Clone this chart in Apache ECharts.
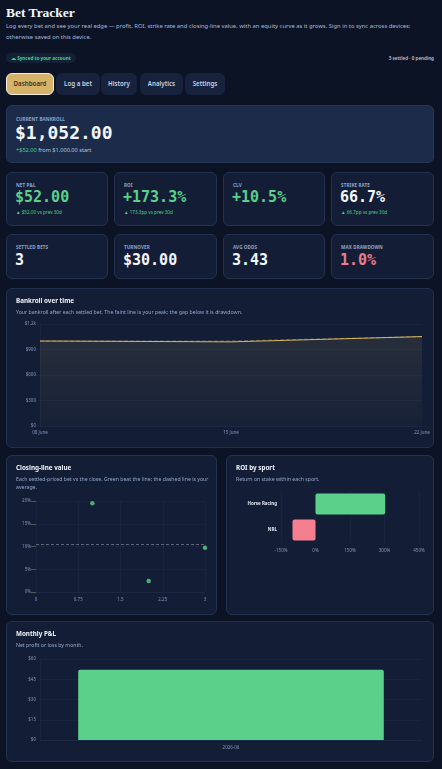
<!DOCTYPE html>
<html><head><meta charset="utf-8">
<script src="https://cdn.jsdelivr.net/npm/echarts@6/dist/echarts.min.js"></script>
<style>
html,body{margin:0;padding:0;background:#0c1324;width:442px;height:769px;overflow:hidden;font-family:"Noto Sans",sans-serif;color:#e8eefb}
.abs{position:absolute;box-sizing:border-box}
.card{position:absolute;box-sizing:border-box;background:#131e36;border:1px solid #233150;border-radius:6px}
h1{position:absolute;left:6px;top:5px;margin:0;font-family:"Liberation Serif",serif;font-weight:bold;font-size:13.5px;color:#f4f6fb}
.sub{position:absolute;left:6px;top:21px;width:432px;font-size:5.85px;line-height:10.5px;color:#a8bbdd}
.pill{position:absolute;left:6px;top:53px;height:10px;padding:0 5px;border-radius:5px;background:#122038;color:#4ad57f;font-size:4.6px;font-weight:bold;line-height:10px}
.status{position:absolute;right:8px;top:55px;font-size:4.6px;color:#b7c6e2;font-weight:600}
.tab{position:absolute;top:73px;height:22px;border-radius:6px;background:#17233c;color:#c9d3e6;font-size:6.2px;font-weight:600;line-height:22px;text-align:center}
.tab.on{background:#d5b46a;color:#3b331f;border:1.5px solid #f3efe3;line-height:19px}
.lab{position:absolute;left:9px;font-size:4.6px;font-weight:bold;color:#8ea4cb;letter-spacing:0.1px}
.val{position:absolute;left:8px;font-family:"DejaVu Sans Mono",monospace;font-weight:bold;color:#f3f6fc}
.small{position:absolute;left:9px;font-size:4.6px;color:#4ad57f}
.ct{position:absolute;left:9px;top:7px;font-size:6.3px;font-weight:bold;color:#f1f4fb}
.cs{position:absolute;left:9px;top:19px;font-size:5.2px;line-height:8px;color:#93a8cd}
.chart{position:absolute;left:0;top:0}
</style></head>
<body>
<h1>Bet Tracker</h1>
<div class="sub">Log every bet and see your real edge — profit, ROI, strike rate and closing-line value, with an equity curve as it grows. Sign in to sync across devices; otherwise saved on this device.</div>
<div class="pill">☁ Synced to your account</div>
<div class="status">3 settled · 0 pending</div>

<div class="tab on abs" style="left:6px;width:48px">Dashboard</div>
<div class="tab" style="left:56px;width:44px">Log a bet</div>
<div class="tab" style="left:101px;width:36px">History</div>
<div class="tab" style="left:140px;width:43px">Analytics</div>
<div class="tab" style="left:185px;width:40px">Settings</div>

<div class="card" style="left:6px;top:105px;width:428px;height:58px;background:#1c2b4a;border-color:#26375a">
  <div class="lab" style="top:10px">CURRENT BANKROLL</div>
  <div class="val" style="top:16px;font-size:18px">$1,052.00</div>
  <div class="small" style="top:40px;font-size:5.6px"><span style="color:#4ad57f">+$52.00</span><span style="color:#b4c3de"> from $1,000.00 start</span></div>
</div>

<div class="card" style="left:6px;top:172px;width:102px;height:54px">
  <div class="lab" style="top:9px">NET P&amp;L</div>
  <div class="val" style="top:15px;font-size:15px;color:#5ad08a">$52.00</div>
  <div class="small" style="top:36px">▲ $52.00 vs prev 30d</div>
</div>
<div class="card" style="left:114px;top:172px;width:103px;height:54px">
  <div class="lab" style="top:9px">ROI</div>
  <div class="val" style="top:15px;font-size:15px;color:#5ad08a">+173.3%</div>
  <div class="small" style="top:36px">▲ 173.3pp vs prev 30d</div>
</div>
<div class="card" style="left:223px;top:172px;width:102px;height:54px">
  <div class="lab" style="top:9px">CLV</div>
  <div class="val" style="top:15px;font-size:15px;color:#5ad08a">+10.5%</div>
</div>
<div class="card" style="left:331px;top:172px;width:103px;height:54px">
  <div class="lab" style="top:9px">STRIKE RATE</div>
  <div class="val" style="top:15px;font-size:15px">66.7%</div>
  <div class="small" style="top:36px">▲ 66.7pp vs prev 30d</div>
</div>

<div class="card" style="left:6px;top:234px;width:102px;height:45px">
  <div class="lab" style="top:9px">SETTLED BETS</div>
  <div class="val" style="top:16px;font-size:15px">3</div>
</div>
<div class="card" style="left:114px;top:234px;width:103px;height:45px">
  <div class="lab" style="top:9px">TURNOVER</div>
  <div class="val" style="top:16px;font-size:15px">$30.00</div>
</div>
<div class="card" style="left:223px;top:234px;width:102px;height:45px">
  <div class="lab" style="top:9px">AVG ODDS</div>
  <div class="val" style="top:16px;font-size:15px">3.43</div>
</div>
<div class="card" style="left:331px;top:234px;width:103px;height:45px">
  <div class="lab" style="top:9px">MAX DRAWDOWN</div>
  <div class="val" style="top:16px;font-size:15px;color:#f07b8b">1.0%</div>
</div>

<div class="card" style="left:6px;top:288px;width:428px;height:160px">
  <div id="c1" class="chart" style="width:428px;height:160px"></div>
  <div class="ct">Bankroll over time</div>
  <div class="cs">Your bankroll after each settled bet. The faint line is your peak; the gap below it is drawdown.</div>
</div>

<div class="card" style="left:6px;top:455px;width:211px;height:160px">
  <div id="c2" class="chart" style="width:211px;height:160px"></div>
  <div class="ct">Closing-line value</div>
  <div class="cs" style="width:195px">Each settled-priced bet vs the close. Green beat the line; the dashed line is your average.</div>
</div>

<div class="card" style="left:226px;top:455px;width:208px;height:160px">
  <div id="c3" class="chart" style="width:208px;height:160px"></div>
  <div class="ct">ROI by sport</div>
  <div class="cs">Return on stake within each sport.</div>
</div>

<div class="card" style="left:6px;top:621px;width:428px;height:141px">
  <div id="c4" class="chart" style="width:428px;height:141px"></div>
  <div class="ct">Monthly P&amp;L</div>
  <div class="cs">Net profit or loss by month.</div>
</div>

<script>
// ---- data ----
const bankrollDates = ['2026-06-08', '2026-06-15', '2026-06-22'];
const bankrollValues = [1000, 990, 1052];
const bankrollTicks = [0, 300, 600, 900, 1200];

const clvBetIndex = [1, 2, 3];
const clvValues = [19.5, 2.4, 9.7];

const sports = ['NRL', 'Horse Racing'];
const sportRoi = [-100, 303];

const months = ['2026-06'];
const monthlyPnl = [52];

// ---- styling ----
const GOLD = '#e8c468', GREEN = '#5ad08a', RED = '#f47f8f';
const LBL = '#8196bd', GRIDC = 'rgba(120,140,180,0.06)';
const FONT = 'Noto Sans';
const axisLbl = {color: LBL, fontSize: 4.5, fontFamily: FONT};
const MONTHS = ['January','February','March','April','May','June','July','August','September','October','November','December'];
const DAY = 86400000;
const t0 = Date.parse(bankrollDates[0] + 'T00:00:00Z');
const dayOff = bankrollDates.map(d => (Date.parse(d + 'T00:00:00Z') - t0) / DAY);
const peak = [];
bankrollValues.forEach((v, i) => peak.push(Math.max(v, i ? peak[i - 1] : v)));
const fmtDay = v => { const d = new Date(t0 + v * DAY); return String(d.getUTCDate()).padStart(2, '0') + ' ' + MONTHS[d.getUTCMonth()]; };

const c1 = echarts.init(document.getElementById('c1'));
c1.setOption({
  animation: false,
  grid: {left: 33, right: 13, top: 35, bottom: 23},
  xAxis: {type: 'value', min: 0, max: dayOff[dayOff.length - 1], interval: 7,
    axisLabel: Object.assign({formatter: fmtDay, margin: 4}, axisLbl),
    axisLine: {show: true, lineStyle: {color: GRIDC}}, axisTick: {show: false}, splitLine: {show: false}},
  yAxis: {type: 'value', min: bankrollTicks[0], max: bankrollTicks[bankrollTicks.length - 1], interval: 300,
    axisLabel: Object.assign({formatter: v => v >= 1000 ? '$' + (v / 1000) + 'k' : '$' + v, margin: 4}, axisLbl),
    axisLine: {show: true, lineStyle: {color: GRIDC}}, splitLine: {lineStyle: {color: GRIDC}}},
  series: [
    {type: 'line', data: dayOff.map((x, i) => [x, peak[i]]), showSymbol: false, z: 3,
      lineStyle: {color: 'rgba(232,196,104,0.35)', width: 1, type: 'dashed'}},
    {type: 'line', data: dayOff.map((x, i) => [x, bankrollValues[i]]), showSymbol: false, z: 2,
      lineStyle: {color: GOLD, width: 0.9},
      areaStyle: {color: new echarts.graphic.LinearGradient(0, 0, 0, 1, [
        {offset: 0, color: 'rgba(232,196,104,0.14)'}, {offset: 1, color: 'rgba(232,196,104,0.03)'}])}}
  ]
});

const avgClv = clvValues.reduce((a, b) => a + b, 0) / clvValues.length;
const c2 = echarts.init(document.getElementById('c2'));
c2.setOption({
  animation: false,
  grid: {left: 29, right: 13, top: 45, bottom: 24},
  xAxis: {type: 'value', min: 0, max: 3, interval: 0.75,
    axisLabel: Object.assign({margin: 5}, axisLbl),
    axisLine: {show: true, lineStyle: {color: GRIDC}}, axisTick: {show: false}, splitLine: {lineStyle: {color: GRIDC}}},
  yAxis: {type: 'value', min: 0, max: 20, interval: 5,
    axisLabel: Object.assign({formatter: '{value}%', margin: 5}, axisLbl),
    axisLine: {show: false}, splitLine: {lineStyle: {color: GRIDC}}},
  series: [{type: 'scatter', data: clvBetIndex.map((x, i) => [x, clvValues[i]]), symbolSize: 4.5,
    itemStyle: {color: GREEN},
    markLine: {silent: true, symbol: 'none', label: {show: false},
      lineStyle: {color: 'rgba(200,205,215,0.6)', type: [3, 2], width: 0.7}, data: [{yAxis: avgClv}]}}]
});

const c3 = echarts.init(document.getElementById('c3'));
c3.setOption({
  animation: false,
  grid: {left: 54, right: 16, top: 35, bottom: 73},
  xAxis: {type: 'value', min: -150, max: 450, interval: 150,
    axisLabel: Object.assign({formatter: '{value}%', margin: 5}, axisLbl),
    axisLine: {show: false}, splitLine: {lineStyle: {color: GRIDC}}},
  yAxis: {type: 'category', data: sports,
    axisLabel: {color: '#e6ebf5', fontSize: 4.5, fontFamily: FONT, fontWeight: 'bold', margin: 4},
    axisLine: {show: false}, axisTick: {show: false}, splitLine: {show: false}},
  series: [{type: 'bar', barWidth: '80%',
    data: sportRoi.map(v => ({value: v, itemStyle: {color: v >= 0 ? GREEN : RED, borderRadius: 2}}))}]
});

const c4 = echarts.init(document.getElementById('c4'));
c4.setOption({
  animation: false,
  grid: {left: 33, right: 13, top: 37, bottom: 23},
  xAxis: {type: 'category', data: months,
    axisLabel: Object.assign({margin: 5}, axisLbl),
    axisLine: {show: true, lineStyle: {color: GRIDC}}, axisTick: {show: false}},
  yAxis: {type: 'value', min: 0, max: 60, interval: 15,
    axisLabel: Object.assign({formatter: '${value}', margin: 4}, axisLbl),
    axisLine: {show: true, lineStyle: {color: GRIDC}}, splitLine: {lineStyle: {color: GRIDC}}},
  series: [{type: 'bar', data: monthlyPnl, barWidth: '80%',
    itemStyle: {color: GREEN, borderRadius: [2, 2, 0, 0]}}]
});
</script>
</body></html>
